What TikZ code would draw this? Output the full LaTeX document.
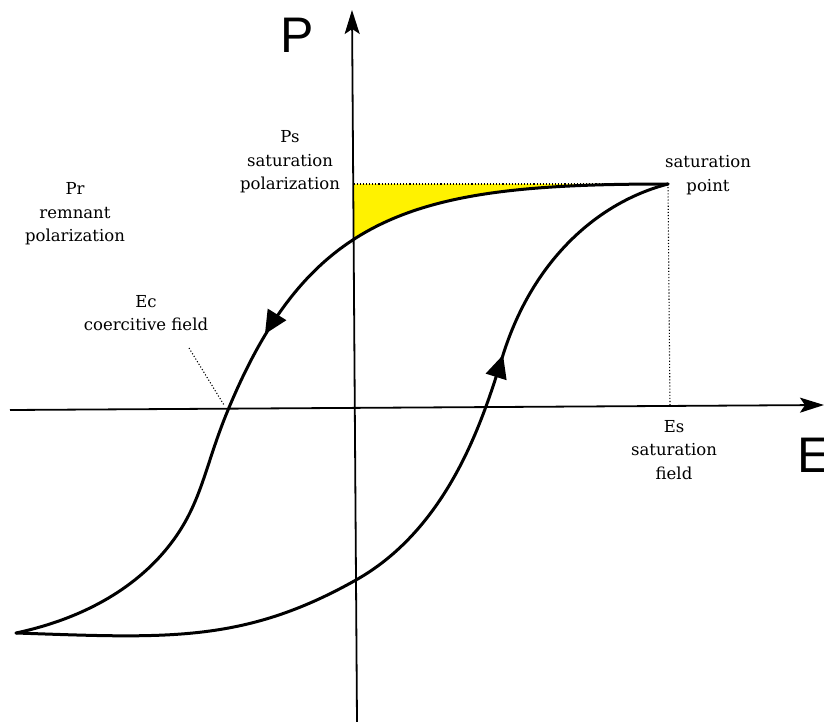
\documentclass[tikz,border=0pt]{standalone}
\usepackage{fontspec}
\setmainfont{DejaVu Serif}
\newfontfamily\axisfont{Liberation Sans}
\usetikzlibrary{arrows.meta}
\begin{document}
\begin{tikzpicture}[x=1pt,y=-1pt,
  axis/.style={line width=1.8pt,-{Stealth[length=24pt,width=15pt,inset=5pt]}},
  branch/.style={line width=3pt,line cap=round,line join=round},
  guide/.style={line width=1.1pt,dotted},
  lbl/.style={align=center,font=\fontsize{16.5}{23.5}\selectfont,inner sep=0pt},
  big/.style={font=\axisfont\fontsize{50}{50}\selectfont,inner sep=0pt},
  head/.style={fill=black}
]
\useasboundingbox (0,0) rectangle (824,722);
% key points
\coordinate (eL) at (10,410);
\coordinate (eR) at (824,405);
\coordinate (pB) at (357,722);
\coordinate (pT) at (352,10);
\coordinate (sat) at (668,184);
\coordinate (ps) at (353.6,184);
\coordinate (es) at (670,407);
\coordinate (ec) at (228,410);
\coordinate (knee) at (172,542);
\coordinate (low) at (16,633);
\coordinate (m1) at (356,580);
\coordinate (m2) at (503,355);
\coordinate (ecA) at (189,348);
\coordinate (ecB) at (224,405);
% yellow area
\begin{scope}
  \clip (353.8,150) rectangle (700,300);
  \fill[yellow] (sat) .. controls (418,184) and (311,210) .. (ec) -- (228,184) -- cycle;
\end{scope}
% dotted guides
\draw[guide] (ps) -- (sat);
\draw[guide] (sat) -- (es);
\draw[guide] (ecA) -- (ecB);
% axes
\draw[axis] (eL) -- (eR);
\draw[axis] (pB) -- (pT);
% upper branch (decreasing field)
\draw[branch] (sat) .. controls (418,184) and (311,210) .. (ec)
  .. controls (205,465.4) and (202,502) .. (knee)
  .. controls (139,586) and (86,618) .. (low);
% lower branch (increasing field)
\draw[branch] (low) .. controls (166,638) and (242.9,643.7) .. (m1)
  .. controls (451.7,526.1) and (485,412.2) .. (m2)
  .. controls (533,259.6) and (598,202.2) .. (sat);
% arrow heads
\coordinate (aT) at (265,334);
\coordinate (aL) at (286.4,320.2);
\coordinate (aR) at (267.7,308.6);
\fill[head] (aT) -- (aL) -- (aR) -- cycle;
\coordinate (bT) at (503,355);
\coordinate (bL) at (506.6,380.2);
\coordinate (bR) at (485.6,373.6);
\fill[head] (bT) -- (bL) -- (bR) -- cycle;
% labels
\node[lbl] (lps) at (290,162) {Ps\\saturation\\polarization};
\node[lbl] (lpr) at (75,214) {Pr\\remnant\\polarization};
\node[lbl] (lec) at (146,313) {Ec\\coercitive field};
\node[lbl] (lsp) at (708,175) {saturation\\point};
\node[lbl] (les) at (674,450) {Es\\saturation\\field};
\node[big,anchor=base west] (lP) at (280,53) {P};
\node[big,anchor=base west] (lE) at (797,472) {E};
\end{tikzpicture}
\end{document}
